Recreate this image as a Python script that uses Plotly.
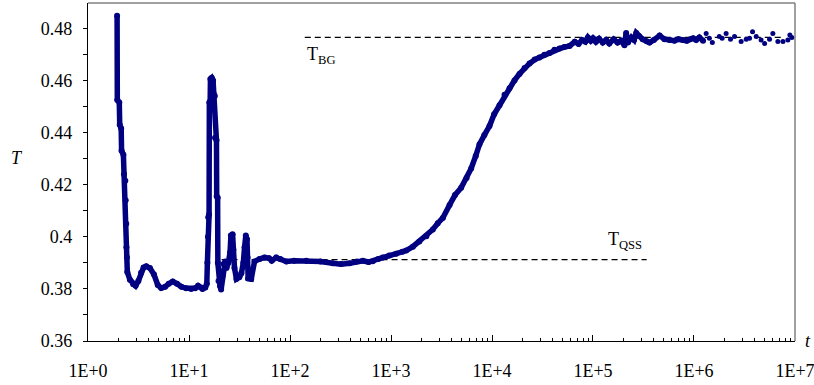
import plotly.graph_objects as go

# ---- data ----
t_main = [1.94, 1.95, 2.04, 2.06, 2.13, 2.15, 2.24, 2.27, 2.34, 2.36, 2.39, 2.40, 2.43, 2.45,
          2.6, 2.8, 2.96, 3.15, 3.35, 3.55, 3.77, 4.1, 4.5, 4.9, 5.3, 5.8, 6.3, 6.9, 7.6, 8.4,
          9.4, 10.5, 11.5, 12.3, 13.0, 13.6, 14.5, 15.0, 15.2, 15.4, 15.5, 15.8, 15.9, 16.2,
          16.3, 16.8, 17.3, 17.5, 18.0, 18.1, 18.7, 18.8, 19.2, 19.3, 19.6, 20.3, 20.8, 21.5,
          22.0, 22.8, 23.5, 24.5, 25.5, 26.0, 27.0, 27.5, 28.2, 29.5, 31.5, 33.0, 34.5, 35.5,
          36.5, 37.5, 38.0, 38.5, 41.3, 44.5, 50, 56, 62, 66, 73, 80, 92, 110, 145, 200, 265,
          320, 390, 460, 526, 600, 661, 750, 830, 960, 1125, 1300, 1415, 1645, 1910, 2240,
          2595, 2905, 3260, 3800, 4300, 4950, 5600, 6220, 6900, 7520, 8400, 9440, 10500,
          11860, 13300, 14900, 16700, 18720, 21000, 23530, 26500, 29500, 33000, 37150, 41500,
          46700, 52000, 58600, 66000, 72000, 78000, 84000, 89000, 95000, 100000, 107000,
          115000, 125000, 135000, 145000, 160000, 175000, 190000, 205000, 213000, 222000,
          240000, 255000, 268000, 285000, 310000, 340000, 363000, 400000, 457000, 510000,
          572000, 640000, 700000, 775000, 850000, 920000, 980000, 1050000, 1130000, 1230000]
T_main = [0.4848, 0.4525, 0.4515, 0.4430, 0.4415, 0.4330, 0.4315, 0.4240, 0.4215, 0.4140,
          0.4050, 0.3960, 0.3920, 0.3865, 0.3835, 0.3818, 0.3812, 0.3830, 0.3862, 0.3882,
          0.3887, 0.3880, 0.3855, 0.3815, 0.3803, 0.3808, 0.3820, 0.3828, 0.3820, 0.3808,
          0.3802, 0.3800, 0.3802, 0.3812, 0.3806, 0.3800, 0.3805, 0.3820, 0.3900, 0.4000,
          0.4075, 0.4085, 0.4515, 0.4520, 0.4605, 0.4610, 0.4600, 0.4550, 0.4540, 0.4380,
          0.4370, 0.4155, 0.4150, 0.3900, 0.3830, 0.3810, 0.3798, 0.3850, 0.3895, 0.3905,
          0.3880, 0.3900, 0.3940, 0.4005, 0.4010, 0.3950, 0.3880, 0.3838, 0.3845, 0.3860,
          0.3900, 0.3960, 0.4005, 0.3990, 0.3920, 0.3840, 0.3838, 0.3905, 0.3915, 0.3920,
          0.3918, 0.3908, 0.3920, 0.3915, 0.3905, 0.3908, 0.3908, 0.3905, 0.3898, 0.3895,
          0.3898, 0.3905, 0.3908, 0.3903, 0.3906, 0.3915, 0.3920, 0.3928, 0.3935, 0.3942,
          0.3947, 0.3962, 0.3982, 0.4002, 0.4028, 0.4052, 0.4072, 0.4122, 0.4160, 0.4188,
          0.4225, 0.4262, 0.4310, 0.4355, 0.4390, 0.4425, 0.4470, 0.4505, 0.4545, 0.4570,
          0.4600, 0.4625, 0.4648, 0.4665, 0.4680, 0.4688, 0.4698, 0.4705, 0.4718, 0.4722,
          0.4728, 0.4732, 0.4748, 0.4740, 0.4755, 0.4748, 0.4765, 0.4752, 0.4762, 0.4748,
          0.4760, 0.4745, 0.4755, 0.4742, 0.4758, 0.4745, 0.4752, 0.4735, 0.4782, 0.4745,
          0.4765, 0.4755, 0.4782, 0.4770, 0.4758, 0.4750, 0.4745, 0.4755, 0.4772, 0.4758,
          0.4755, 0.4752, 0.4758, 0.4755, 0.4752, 0.4758, 0.4762, 0.4755, 0.4765, 0.4752]

t_tail = [1.32e6, 1.42e6, 1.52e6, 1.78e6, 1.9e6, 2.08e6, 2.3e6, 2.52e6, 2.93e6, 3.29e6,
          3.55e6, 3.8e6, 4.13e6, 4.62e6, 5.0e6, 5.6e6, 6.04e6, 6.77e6, 7.6e6, 8.5e6, 8.9e6, 9.3e6]
T_tail = [0.4780, 0.4762, 0.4745, 0.4768, 0.4762, 0.4780, 0.4758, 0.4768, 0.4749, 0.4758,
          0.4762, 0.4787, 0.4768, 0.4755, 0.4742, 0.4758, 0.4780, 0.4749, 0.4749, 0.4755,
          0.4774, 0.4765]

tbg_t = [140, 7.5e6]
tbg_T = [0.4765, 0.4765]
tqss_t = [21, 3.4e5]
tqss_T = [0.3912, 0.3912]

x_tickvals = [1, 10, 100, 1e3, 1e4, 1e5, 1e6, 1e7]
x_ticktext = ["1E+0", "1E+1", "1E+2", "1E+3", "1E+4", "1E+5", "1E+6", "1E+7"]
y_tickvals = [0.36, 0.38, 0.40, 0.42, 0.44, 0.46, 0.48]
y_ticktext = ["0.36", "0.38", "0.4", "0.42", "0.44", "0.46", "0.48"]

NAVY = "#000080"
FONT = "Liberation Serif"

fig = go.Figure()
fig.add_trace(go.Scatter(x=tqss_t, y=tqss_T, mode="lines",
                         line=dict(color="black", width=1.3, dash="6px,4px"), hoverinfo="skip"))
fig.add_trace(go.Scatter(x=tbg_t, y=tbg_T, mode="lines",
                         line=dict(color="black", width=1.3, dash="6px,4px"), hoverinfo="skip"))
fig.add_trace(go.Scatter(x=t_main, y=T_main, mode="lines+markers",
                         line=dict(color=NAVY, width=5.5),
                         marker=dict(color=NAVY, size=6)))
fig.add_trace(go.Scatter(x=t_tail, y=T_tail, mode="markers",
                         marker=dict(color=NAVY, size=5)))

minor_x = [m * 10 ** d for d in range(0, 7) for m in range(2, 10)]

fig.update_layout(
    width=814, height=385,
    margin=dict(l=88, r=19, t=3, b=44),
    paper_bgcolor="white", plot_bgcolor="white",
    showlegend=False,
    font=dict(family=FONT, size=18, color="black"),
    xaxis=dict(type="log", range=[-0.0002, 7.0002], showgrid=False, zeroline=False,
               automargin=False,
               showline=True, linecolor="black", linewidth=1.2,
               tickmode="array", tickvals=x_tickvals, ticktext=x_ticktext,
               ticks="inside", ticklen=6, tickcolor="black", tickwidth=1,
               ticklabelstandoff=13, ticklabeloverflow="allow",
               minor=dict(tickmode="array", tickvals=minor_x, ticks="inside",
                          ticklen=3, tickcolor="black", tickwidth=1),
               tickfont=dict(family=FONT, size=18)),
    yaxis=dict(range=[0.36, 0.4897], showgrid=False, zeroline=False,
               automargin=False,
               showline=True, linecolor="black", linewidth=1.2,
               tickmode="array", tickvals=y_tickvals, ticktext=y_ticktext,
               ticks="outside", ticklen=4, tickcolor="black", tickwidth=1,
               ticklabelstandoff=7,
               minor=dict(dtick=0.01, tick0=0.36, ticks="outside", ticklen=4,
                          tickcolor="black", tickwidth=1),
               tickfont=dict(family=FONT, size=18)),
    shapes=[
        dict(type="line", xref="paper", yref="paper", x0=0, x1=1, y0=1, y1=1,
             line=dict(color="#808080", width=1.5)),
        dict(type="line", xref="paper", yref="paper", x0=1, x1=1, y0=0, y1=1,
             line=dict(color="#808080", width=1.5)),
    ],
    annotations=[
        dict(text="<i>T</i>", xref="paper", yref="paper", x=-0.1, y=0.54,
             xanchor="center", yanchor="middle", showarrow=False,
             font=dict(family=FONT, size=18)),
        dict(text="<i>t</i>", xref="paper", yref="paper", x=1.012, y=0.0,
             xanchor="left", yanchor="middle", showarrow=False,
             font=dict(family=FONT, size=18)),
        dict(text="T<sub>BG</sub>", xref="x", yref="y", x=2.145, y=0.4695,
             xanchor="left", yanchor="middle", showarrow=False,
             font=dict(family=FONT, size=18)),
        dict(text="T<sub>QSS</sub>", xref="x", yref="y", x=5.13, y=0.3985,
             xanchor="left", yanchor="middle", showarrow=False,
             font=dict(family=FONT, size=18)),
    ],
)

fig.write_html("out.html", config={"displayModeBar": False},
               post_script="document.body.style.margin='0px';document.body.style.overflow='hidden';")
